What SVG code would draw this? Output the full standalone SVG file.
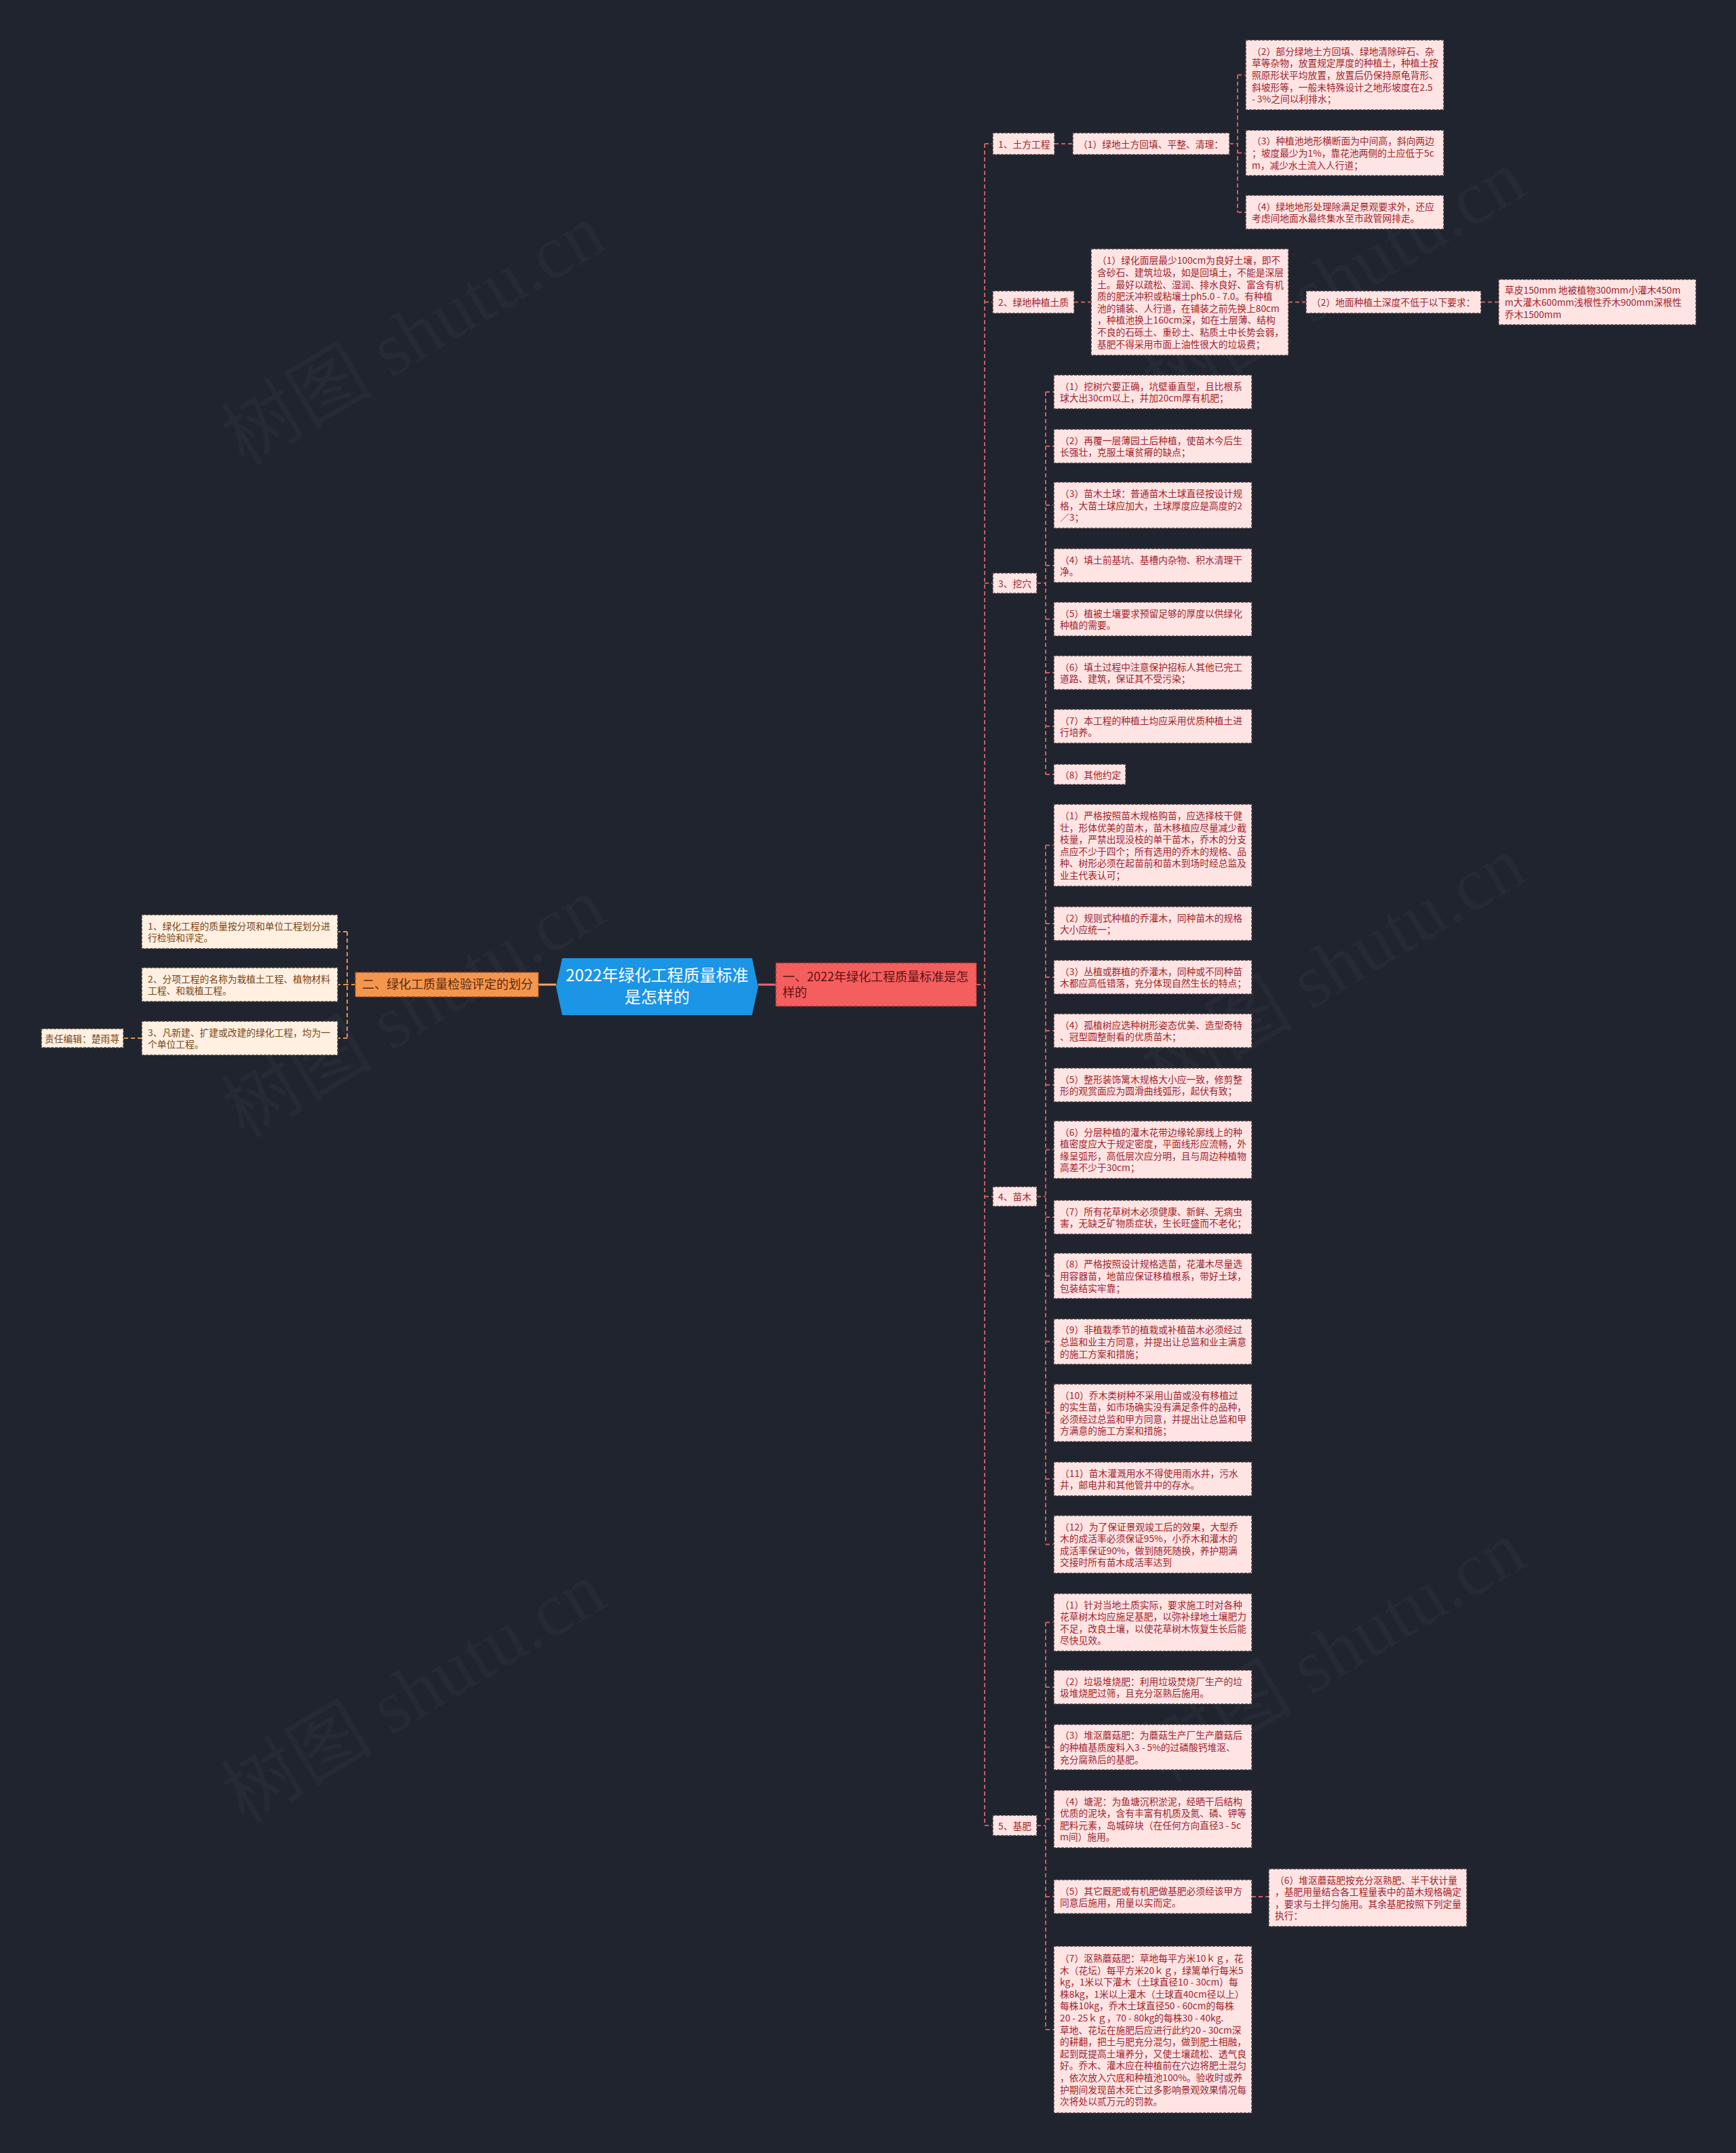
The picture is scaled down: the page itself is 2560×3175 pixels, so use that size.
<svg xmlns="http://www.w3.org/2000/svg" width="2560" height="3175" viewBox="0 0 2560 3175">
<style>
text{font-family:"Noto Sans CJK SC","Noto Sans",sans-serif;}
.bg{fill:#20242f;}
.wm{font-family:"Liberation Serif","Noto Sans CJK SC",serif;font-size:112px;fill:#262a35;}
.leaf{fill:#ffe4e4;stroke:#4a3a3c;stroke-width:1.5;stroke-dasharray:4 2;}
.lt{font-size:13.75px;fill:#a1242c;}
.leafL{fill:#fff0e2;stroke:#4a3e36;stroke-width:1.5;stroke-dasharray:4 2;}
.ltL{font-size:13.75px;fill:#7b4516;}
.cR{fill:none;stroke:#c9605f;stroke-width:2;stroke-dasharray:6 4;}
.cL{fill:none;stroke:#e3914d;stroke-width:2;stroke-dasharray:6 4;}
.main1{fill:#f55e5e;stroke:#9e2f2f;stroke-width:1.5;stroke-dasharray:5 3;}
.main2{fill:#f5964f;stroke:#9a5020;stroke-width:1.5;stroke-dasharray:5 3;}
</style>
<rect class="bg" x="0" y="0" width="2560" height="3175"/>
<g id="watermarks">
<text class="wm" x="360" y="688" transform="rotate(-31 360 688)">树图 shutu.cn</text>
<text class="wm" x="360" y="1680" transform="rotate(-31 360 1680)">树图 shutu.cn</text>
<text class="wm" x="360" y="2690" transform="rotate(-31 360 2690)">树图 shutu.cn</text>
<text class="wm" x="1717" y="608" transform="rotate(-31 1717 608)">树图 shutu.cn</text>
<text class="wm" x="1717" y="1620" transform="rotate(-31 1717 1620)">树图 shutu.cn</text>
<text class="wm" x="1717" y="2630" transform="rotate(-31 1717 2630)">树图 shutu.cn</text>
</g>
<g id="connectors">
<line x1="794" y1="1452" x2="820" y2="1452" stroke="#f0a470" stroke-width="3"/>
<line x1="1118" y1="1452" x2="1144" y2="1452" stroke="#e26e6e" stroke-width="3"/>
<path class="cL" d="M524 1452H512M512 1374V1531M512 1374H498M512 1452H498M512 1531H498M209 1531H182"/>
<path class="cR" d="M1440 1452H1452M1452 212V2692M1452 212H1464M1452 445.5H1464M1452 860H1464M1452 1764.5H1464M1452 2692H1464"/>
<path class="cR" d="M1555 212H1582M1813 212H1825M1825 110.5V313M1825 110.5H1837M1825 225.5H1837M1825 313H1837"/>
<path class="cR" d="M1584 445.5H1609M1900 445.5H1926M2184 445.5H2210"/>
<path class="cR" d="M1529 860H1542M1542 578V1142M1542 578H1554M1542 658H1554M1542 745H1554M1542 834H1554M1542 913H1554M1542 992H1554M1542 1071H1554M1542 1142H1554"/>
<path class="cR" d="M1529 1764.5H1542M1542 1246.5V2277.5M1542 1246.5H1554M1542 1362H1554M1542 1441H1554M1542 1520H1554M1542 1600H1554M1542 1695.5H1554M1542 1795H1554M1542 1881.5H1554M1542 1978.5H1554M1542 2083.5H1554M1542 2181H1554M1542 2277.5H1554"/>
<path class="cR" d="M1529 2692H1542M1542 2392.5V2993M1542 2392.5H1554M1542 2488H1554M1542 2576.5H1554M1542 2682.5H1554M1542 2797H1554M1542 2993H1554M1846 2797H1871"/>
</g>
<g id="root">
<polygon points="820,1455 829,1413 1109,1413 1118,1455 1109,1497 829,1497" fill="#1b95e6"/>
<text x="969" y="1447" text-anchor="middle" font-size="24" fill="#ffffff">2022年绿化工程质量标准</text>
<text x="969" y="1479" text-anchor="middle" font-size="24" fill="#ffffff">是怎样的</text>
</g>
<g id="n-main1">
<rect class="main1" x="1144" y="1420" width="296" height="64"/>
<text x="1154" y="1447" font-size="18" fill="#5e1212">一、2022年绿化工程质量标准是怎</text>
<text x="1154" y="1470" font-size="18" fill="#5e1212">样的</text>
</g>
<g id="n-main2">
<rect class="main2" x="524" y="1434" width="270" height="36"/>
<text x="534" y="1458" font-size="18" fill="#5a2a0a">二、绿化工质量检验评定的划分</text>
</g>
<g id="n-L1"><rect class="leafL" x="209" y="1349" width="289" height="50"/><text class="ltL" x="218" y="1370.7">1、绿化工程的质量按分项和单位工程划分进</text><text class="ltL" x="218" y="1388.3">行检验和评定。</text></g>
<g id="n-L2"><rect class="leafL" x="209" y="1427" width="289" height="50"/><text class="ltL" x="218" y="1448.7">2、分项工程的名称为栽植土工程、植物材料</text><text class="ltL" x="218" y="1466.3">工程、和栽植工程。</text></g>
<g id="n-L3"><rect class="leafL" x="209" y="1506" width="289" height="50"/><text class="ltL" x="218" y="1527.7">3、凡新建、扩建或改建的绿化工程，均为一</text><text class="ltL" x="218" y="1545.3">个单位工程。</text></g>
<g id="n-editor"><rect class="leafL" x="61" y="1517" width="121" height="28"/><text class="ltL" x="66" y="1536.5">责任编辑：楚雨荨</text></g>

<g id="n-1"><rect class="leaf" x="1464" y="196" width="91" height="32"/><text class="lt" x="1472" y="217.5">1、土方工程</text></g>
<g id="n-1-1"><rect class="leaf" x="1582" y="196" width="231" height="32"/><text class="lt" x="1590" y="217.5">（1）绿地土方回填、平整、清理：</text></g>
<g id="n-1-2"><rect class="leaf" x="1837" y="59" width="292" height="103"/><text class="lt" x="1846" y="80.8">（2）部分绿地土方回填、绿地清除碎石、杂</text><text class="lt" x="1846" y="98.4">草等杂物，放置规定厚度的种植土，种植土按</text><text class="lt" x="1846" y="116">照原形状平均放置，放置后仍保持原龟背形、</text><text class="lt" x="1846" y="133.6">斜坡形等，一般未特殊设计之地形坡度在2.5</text><text class="lt" x="1846" y="151.2"> - 3%之间以利排水；</text></g>
<g id="n-1-3"><rect class="leaf" x="1837" y="192" width="292" height="67"/><text class="lt" x="1846" y="213.4">（3）种植池地形横断面为中间高，斜向两边</text><text class="lt" x="1846" y="231">；坡度最少为1%，靠花池两侧的土应低于5c</text><text class="lt" x="1846" y="248.6">m，减少水土流入人行道；</text></g>
<g id="n-1-4"><rect class="leaf" x="1837" y="288" width="292" height="50"/><text class="lt" x="1846" y="309.7">（4）绿地地形处理除满足景观要求外，还应</text><text class="lt" x="1846" y="327.3">考虑间地面水最终集水至市政管网排走。</text></g>

<g id="n-2"><rect class="leaf" x="1464" y="429" width="120" height="33"/><text class="lt" x="1472" y="451">2、绿地种植土质</text></g>
<g id="n-2-1"><rect class="leaf" x="1609" y="367" width="291" height="157"/><text class="lt" x="1618" y="389.4">（1）绿化面层最少100cm为良好土壤，即不</text><text class="lt" x="1618" y="407">含砂石、建筑垃圾，如是回填土，不能是深层</text><text class="lt" x="1618" y="424.6">土。最好以疏松、湿润、排水良好、富含有机</text><text class="lt" x="1618" y="442.2">质的肥沃冲积或粘壤土ph5.0 - 7.0。有种植</text><text class="lt" x="1618" y="459.8">池的铺装、人行道，在铺装之前先换上80cm</text><text class="lt" x="1618" y="477.4">，种植池换上160cm深，如在土层薄、结构</text><text class="lt" x="1618" y="495">不良的石砾土、重砂土、粘质土中长势会弱，</text><text class="lt" x="1618" y="512.6">基肥不得采用市面上油性很大的垃圾费；</text></g>
<g id="n-2-2"><rect class="leaf" x="1926" y="429" width="258" height="33"/><text class="lt" x="1934" y="451">（2）地面种植土深度不低于以下要求：</text></g>
<g id="n-2-3"><rect class="leaf" x="2210" y="412" width="291" height="67"/><text class="lt" x="2219" y="433.4">草皮150mm 地被植物300mm小灌木450m</text><text class="lt" x="2219" y="451">m大灌木600mm浅根性乔木900mm深根性</text><text class="lt" x="2219" y="468.6">乔木1500mm</text></g>

<g id="n-3"><rect class="leaf" x="1464" y="845" width="65" height="30"/><text class="lt" x="1472" y="865.5">3、挖穴</text></g>
<g id="n-3-1"><rect class="leaf" x="1554" y="553" width="292" height="50"/><text class="lt" x="1563" y="574.7">（1）挖树穴要正确，坑壁垂直型，且比根系</text><text class="lt" x="1563" y="592.3">球大出30cm以上，并加20cm厚有机肥；</text></g>
<g id="n-3-2"><rect class="leaf" x="1554" y="633" width="292" height="50"/><text class="lt" x="1563" y="654.7">（2）再覆一层薄园土后种植，使苗木今后生</text><text class="lt" x="1563" y="672.3">长强壮，克服土壤贫瘠的缺点；</text></g>
<g id="n-3-3"><rect class="leaf" x="1554" y="711" width="292" height="68"/><text class="lt" x="1563" y="732.9">（3）苗木土球：普通苗木土球直径按设计规</text><text class="lt" x="1563" y="750.5">格，大苗土球应加大，土球厚度应是高度的2</text><text class="lt" x="1563" y="768.1">／3；</text></g>
<g id="n-3-4"><rect class="leaf" x="1554" y="809" width="292" height="50"/><text class="lt" x="1563" y="830.7">（4）填土前基坑、基槽内杂物、积水清理干</text><text class="lt" x="1563" y="848.3">净。</text></g>
<g id="n-3-5"><rect class="leaf" x="1554" y="888" width="292" height="50"/><text class="lt" x="1563" y="909.7">（5）植被土壤要求预留足够的厚度以供绿化</text><text class="lt" x="1563" y="927.3">种植的需要。</text></g>
<g id="n-3-6"><rect class="leaf" x="1554" y="967" width="292" height="50"/><text class="lt" x="1563" y="988.7">（6）填土过程中注意保护招标人其他已完工</text><text class="lt" x="1563" y="1006.3">道路、建筑，保证其不受污染；</text></g>
<g id="n-3-7"><rect class="leaf" x="1554" y="1046" width="292" height="50"/><text class="lt" x="1563" y="1067.7">（7）本工程的种植土均应采用优质种植土进</text><text class="lt" x="1563" y="1085.3">行培养。</text></g>
<g id="n-3-8"><rect class="leaf" x="1554" y="1127" width="106" height="30"/><text class="lt" x="1563" y="1147.5">（8）其他约定</text></g>

<g id="n-4"><rect class="leaf" x="1464" y="1750" width="65" height="29"/><text class="lt" x="1472" y="1770">4、苗木</text></g>
<g id="n-4-1"><rect class="leaf" x="1554" y="1186" width="292" height="121"/><text class="lt" x="1563" y="1208">（1）严格按照苗木规格购苗，应选择枝干健</text><text class="lt" x="1563" y="1225.6">壮，形体优美的苗木，苗木移植应尽量减少截</text><text class="lt" x="1563" y="1243.2">枝量，严禁出现没枝的单干苗木，乔木的分支</text><text class="lt" x="1563" y="1260.8">点应不少于四个；所有选用的乔木的规格、品</text><text class="lt" x="1563" y="1278.4">种、树形必须在起苗前和苗木到场时经总监及</text><text class="lt" x="1563" y="1296">业主代表认可；</text></g>
<g id="n-4-2"><rect class="leaf" x="1554" y="1337" width="292" height="50"/><text class="lt" x="1563" y="1358.7">（2）规则式种植的乔灌木，同种苗木的规格</text><text class="lt" x="1563" y="1376.3">大小应统一；</text></g>
<g id="n-4-3"><rect class="leaf" x="1554" y="1416" width="292" height="50"/><text class="lt" x="1563" y="1437.7">（3）丛植或群植的乔灌木，同种或不同种苗</text><text class="lt" x="1563" y="1455.3">木都应高低错落，充分体现自然生长的特点；</text></g>
<g id="n-4-4"><rect class="leaf" x="1554" y="1495" width="292" height="50"/><text class="lt" x="1563" y="1516.7">（4）孤植树应选种树形姿态优美、造型奇特</text><text class="lt" x="1563" y="1534.3">、冠型圆整耐看的优质苗木；</text></g>
<g id="n-4-5"><rect class="leaf" x="1554" y="1575" width="292" height="50"/><text class="lt" x="1563" y="1596.7">（5）整形装饰篱木规格大小应一致，修剪整</text><text class="lt" x="1563" y="1614.3">形的观赏面应为圆滑曲线弧形，起伏有致；</text></g>
<g id="n-4-6"><rect class="leaf" x="1554" y="1653" width="292" height="85"/><text class="lt" x="1563" y="1674.6">（6）分层种植的灌木花带边缘轮廓线上的种</text><text class="lt" x="1563" y="1692.2">植密度应大于规定密度，平面线形应流畅，外</text><text class="lt" x="1563" y="1709.8">缘呈弧形，高低层次应分明，且与周边种植物</text><text class="lt" x="1563" y="1727.4">高差不少于30cm；</text></g>
<g id="n-4-7"><rect class="leaf" x="1554" y="1770" width="292" height="50"/><text class="lt" x="1563" y="1791.7">（7）所有花草树木必须健康、新鲜、无病虫</text><text class="lt" x="1563" y="1809.3">害，无缺乏矿物质症状，生长旺盛而不老化；</text></g>
<g id="n-4-8"><rect class="leaf" x="1554" y="1848" width="292" height="67"/><text class="lt" x="1563" y="1869.4">（8）严格按照设计规格选苗，花灌木尽量选</text><text class="lt" x="1563" y="1887">用容器苗，地苗应保证移植根系，带好土球，</text><text class="lt" x="1563" y="1904.6">包装结实牢靠；</text></g>
<g id="n-4-9"><rect class="leaf" x="1554" y="1945" width="292" height="67"/><text class="lt" x="1563" y="1966.4">（9）非植栽季节的植栽或补植苗木必须经过</text><text class="lt" x="1563" y="1984">总监和业主方同意，并提出让总监和业主满意</text><text class="lt" x="1563" y="2001.6">的施工方案和措施；</text></g>
<g id="n-4-10"><rect class="leaf" x="1554" y="2041" width="292" height="85"/><text class="lt" x="1563" y="2062.6">（10）乔木类树种不采用山苗或没有移植过</text><text class="lt" x="1563" y="2080.2">的实生苗，如市场确实没有满足条件的品种，</text><text class="lt" x="1563" y="2097.8">必须经过总监和甲方同意，并提出让总监和甲</text><text class="lt" x="1563" y="2115.4">方满意的施工方案和措施；</text></g>
<g id="n-4-11"><rect class="leaf" x="1554" y="2156" width="292" height="50"/><text class="lt" x="1563" y="2177.7">（11）苗木灌溉用水不得使用雨水井，污水</text><text class="lt" x="1563" y="2195.3">井，邮电井和其他管井中的存水。</text></g>
<g id="n-4-12"><rect class="leaf" x="1554" y="2235" width="292" height="85"/><text class="lt" x="1563" y="2256.6">（12）为了保证景观竣工后的效果，大型乔</text><text class="lt" x="1563" y="2274.2">木的成活率必须保证95%，小乔木和灌木的</text><text class="lt" x="1563" y="2291.8">成活率保证90%，做到随死随换，养护期满</text><text class="lt" x="1563" y="2309.4">交接时所有苗木成活率达到</text></g>

<g id="n-5"><rect class="leaf" x="1464" y="2677" width="65" height="30"/><text class="lt" x="1472" y="2697.5">5、基肥</text></g>
<g id="n-5-1"><rect class="leaf" x="1554" y="2350" width="292" height="85"/><text class="lt" x="1563" y="2371.6">（1）针对当地土质实际，要求施工时对各种</text><text class="lt" x="1563" y="2389.2">花草树木均应施足基肥，以弥补绿地土壤肥力</text><text class="lt" x="1563" y="2406.8">不足，改良土壤，以使花草树木恢复生长后能</text><text class="lt" x="1563" y="2424.4">尽快见效。</text></g>
<g id="n-5-2"><rect class="leaf" x="1554" y="2463" width="292" height="50"/><text class="lt" x="1563" y="2484.7">（2）垃圾堆烧肥：利用垃圾焚烧厂生产的垃</text><text class="lt" x="1563" y="2502.3">圾堆烧肥过筛，且充分沤熟后施用。</text></g>
<g id="n-5-3"><rect class="leaf" x="1554" y="2543" width="292" height="67"/><text class="lt" x="1563" y="2564.4">（3）堆沤蘑菇肥：为蘑菇生产厂生产蘑菇后</text><text class="lt" x="1563" y="2582">的种植基质废料入3 - 5%的过磷酸钙堆沤、</text><text class="lt" x="1563" y="2599.6">充分腐熟后的基肥。</text></g>
<g id="n-5-4"><rect class="leaf" x="1554" y="2640" width="292" height="85"/><text class="lt" x="1563" y="2661.6">（4）塘泥：为鱼塘沉积淤泥，经晒干后结构</text><text class="lt" x="1563" y="2679.2">优质的泥块，含有丰富有机质及氮、磷、钾等</text><text class="lt" x="1563" y="2696.8">肥料元素，岛城碎块（在任何方向直径3 - 5c</text><text class="lt" x="1563" y="2714.4">m间）施用。</text></g>
<g id="n-5-5"><rect class="leaf" x="1554" y="2772" width="292" height="50"/><text class="lt" x="1563" y="2793.7">（5）其它厩肥或有机肥做基肥必须经该甲方</text><text class="lt" x="1563" y="2811.3">同意后施用，用量以实而定。</text></g>
<g id="n-5-6"><rect class="leaf" x="1871" y="2756" width="292" height="85"/><text class="lt" x="1880" y="2777.6">（6）堆沤蘑菇肥按充分沤熟肥、半干状计量</text><text class="lt" x="1880" y="2795.2">，基肥用量结合各工程量表中的苗木规格确定</text><text class="lt" x="1880" y="2812.8">，要求与土拌匀施用。其余基肥按照下列定量</text><text class="lt" x="1880" y="2830.4">执行：</text></g>
<g id="n-5-7"><rect class="leaf" x="1554" y="2870" width="292" height="246"/><text class="lt" x="1563" y="2892.9">（7）沤熟蘑菇肥：草地每平方米10ｋｇ，花</text><text class="lt" x="1563" y="2910.5">木（花坛）每平方米20ｋｇ，绿篱单行每米5</text><text class="lt" x="1563" y="2928.1">kg，1米以下灌木（土球直径10 - 30cm）每</text><text class="lt" x="1563" y="2945.7">株8kg，1米以上灌木（土球直40cm径以上）</text><text class="lt" x="1563" y="2963.3">每株10kg，乔木土球直径50 - 60cm的每株</text><text class="lt" x="1563" y="2980.9">20 - 25ｋｇ，70 -  80kg的每株30 -  40kg.</text><text class="lt" x="1563" y="2998.5">草地、花坛在施肥后应进行此约20 - 30cm深</text><text class="lt" x="1563" y="3016.1">的耕翻，把土与肥充分混匀，做到肥土相融，</text><text class="lt" x="1563" y="3033.7">起到既提高土壤养分，又使土壤疏松、透气良</text><text class="lt" x="1563" y="3051.3">好。乔木、灌木应在种植前在穴边将肥土混匀</text><text class="lt" x="1563" y="3068.9">，依次放入穴底和种植池100%。验收时或养</text><text class="lt" x="1563" y="3086.5">护期间发现苗木死亡过多影响景观效果情况每</text><text class="lt" x="1563" y="3104.1">次将处以贰万元的罚款。</text></g>
</svg>
